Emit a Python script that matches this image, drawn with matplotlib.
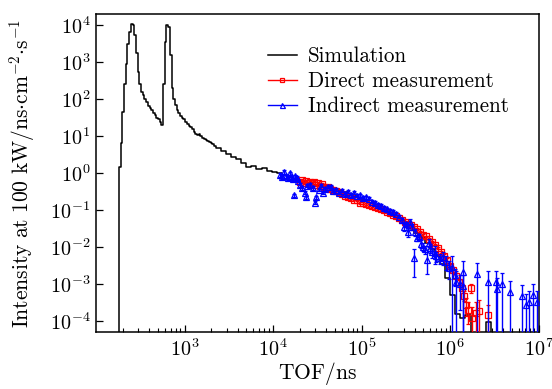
import numpy as np
import matplotlib
matplotlib.use("Agg")
import matplotlib.pyplot as plt
from matplotlib.lines import Line2D

plt.rcParams['font.family'] = 'serif'
plt.rcParams['font.serif'] = ['cmr10']
plt.rcParams['mathtext.fontset'] = 'cm'
plt.rcParams['axes.formatter.use_mathtext'] = True
plt.rcParams['axes.unicode_minus'] = False

# simulated spectrum, histogram bin edges (ns) and intensities
sim_edges = [100, 181.8, 190.0, 198.6, 207.5, 216.9, 226.7, 236.9, 247.6, 258.8, 270.5,
             282.7, 295.4, 308.8, 322.7, 337.3, 352.5, 368.4, 385.0, 402.4, 420.6,
             439.6, 459.4, 480.2, 501.8, 524.5, 548.2, 572.9, 598.8, 625.8, 654.1,
             683.6, 714.5, 746.7, 780.4, 815.7, 852.5, 891.0, 931.2, 973.2, 1017,
             1063, 1111, 1161, 1214, 1269, 1326, 1386, 1448, 1514, 1582,
             1654, 1728, 1806, 1888, 1973, 2062, 2155, 2252,
             2571, 2936, 3352, 3828, 4370, 4990, 5698, 6506, 7429, 8482,
             9685, 11058, 12627, 14417, 16462, 18796, 21462, 24506, 27981, 31950,
             36481, 41654, 47562, 54307, 62009, 70804, 80845, 92311, 105403, 120352,
             137420, 156910, 179163, 204573, 233586, 266714, 304540, 347730, 397047, 453358,
             517655, 591072, 674900, 770617, 879911, 1004710, 1147200, 1309900, 1495700, 1707800,
             1950000, 2226600, 2542400, 2903000, 3314700, 3784800, 4321600, 4934500, 5634300, 6433400,
             7345800, 8387600, 9577200, 1e7]
sim_val = [0, 1.4, 6.5, 45, 250, 900, 3000, 6500, 11000, 10000, 5500,
           1800, 550, 250, 150, 125, 100, 82, 66, 58, 51,
           42, 36, 31, 28, 24, 20, 250, 3500, 10000, 9000,
           1500, 200, 100, 70, 50, 42, 35, 31, 28, 24,
           21, 19, 17, 15, 12.5, 11, 10.8, 11, 9.8, 9,
           8.3, 7.9, 7.2, 6.8, 6.5, 6.0, 5.4,
           4.7, 3.9, 3.2, 2.7, 2.4, 1.86, 1.45, 1.55, 1.3, 1.37,
           1.1, 1.05, 1.0, 0.85, 0.78, 0.68, 0.6, 0.56, 0.52, 0.48,
           0.45, 0.42, 0.39, 0.36, 0.33, 0.3, 0.26, 0.23, 0.2, 0.17,
           0.15, 0.13, 0.11, 0.095, 0.08, 0.065, 0.052, 0.042, 0.032, 0.024,
           0.018, 0.013, 0.0085, 0.0055, 0.0035, 0.0014, 0.0005, 0.00015, 0.00012, 0.00014,
           0, 0, 0, 0.00009, 0, 0, 0, 0, 0, 0,
           0, 0, 0, 0]

# direct measurement
dir_tof = [20050, 21000, 22300, 23500, 24800, 26000, 27400, 28900, 30400, 32000,
           33700, 35500, 37400, 39300, 41400, 43800, 47400, 51100, 55300, 59800,
           64600, 69800, 75500, 81600, 88200, 95400, 103000, 111500, 120500, 130000,
           141000, 152000, 164500, 178000, 192000, 208000, 225000, 243000, 263000, 284000,
           307000, 332000, 359000, 388000, 419000, 454000, 490000, 530000, 573000, 620000,
           670000, 724000, 783000, 847000, 915000, 989000, 1070000, 1157000, 1250000, 1352000,
           1426000, 1504000, 1585000, 1710000, 1750000, 1990000, 2100000, 2670000]
dir_val = [0.58, 0.63, 0.54, 0.61, 0.52, 0.58, 0.52, 0.58, 0.47, 0.54,
           0.45, 0.51, 0.42, 0.40, 0.42, 0.37, 0.35, 0.33, 0.31, 0.27,
           0.24, 0.22, 0.21, 0.19, 0.18, 0.155, 0.155, 0.145, 0.135, 0.128,
           0.12, 0.113, 0.105, 0.10, 0.088, 0.083, 0.074, 0.069, 0.061, 0.054,
           0.048, 0.042, 0.038, 0.034, 0.030, 0.025, 0.021, 0.019, 0.016, 0.0136,
           0.0113, 0.0094, 0.0073, 0.0057, 0.0045, 0.0031, 0.0023, 0.00166, 0.0011, 0.00078,
           0.00048, 0.00027, 0.0002, 0.00078, 0.00012, 0.00016, 0.00018, 0.000145]
dir_rel_err = [0.05] * 50 + [0.06, 0.07, 0.08, 0.1, 0.1, 0.12, 0.12, 0.15, 0.18, 0.2,
                             0.3, 0.5, 0.6, 0.3, 1.0, 1.0, 1.0, 0.8]

# indirect measurement
ind_tof = [11940, 12600, 13300, 14000, 14800, 15500, 16000, 16800, 17600, 18500,
           19400, 20400, 21500, 17200, 22800, 23500, 24100, 26000, 28200, 29600,
           31000, 32700, 34600, 36300, 38400, 41400, 44800, 47400, 51100, 55300,
           59800, 64600, 69800, 75500, 81600, 88200, 95400, 103000, 111500, 120500,
           130000, 141000, 152000, 164500, 178000, 192000, 208000, 225000, 243000, 263000,
           284000, 300000, 320000, 332000, 350000, 375000, 388000, 398000, 419000, 441000,
           466000, 490000, 517000, 545000, 573000, 600000, 630000, 670000, 700000, 763000,
           827000, 892000, 970000, 1040000, 1127000, 1180000, 1283000, 1400000, 1400000, 2000000,
           2670000, 3300000, 3420000, 3900000, 4710000, 6560000, 7210000, 7910000, 8580000, 9700000]
ind_val = [0.88, 0.78, 1.06, 0.82, 0.73, 0.98, 0.78, 0.68, 0.82, 0.73,
           0.61, 0.47, 0.39, 0.25, 0.29, 0.22, 0.45, 0.47, 0.39, 0.155,
           0.22, 0.35, 0.45, 0.29, 0.37, 0.42, 0.42, 0.33, 0.35, 0.29,
           0.33, 0.27, 0.31, 0.25, 0.29, 0.24, 0.25, 0.21, 0.22, 0.20,
           0.165, 0.155, 0.135, 0.128, 0.113, 0.105, 0.093, 0.088, 0.078, 0.065,
           0.054, 0.034, 0.042, 0.025, 0.048, 0.035, 0.005, 0.025, 0.0175, 0.019,
           0.012, 0.010, 0.0085, 0.0045, 0.013, 0.0094, 0.0073, 0.0069, 0.0057, 0.005,
           0.0053, 0.0039, 0.0027, 0.0029, 0.0017, 0.0011, 0.00098, 0.00085, 0.0021, 0.0018,
           0.0011, 0.0011, 0.00072, 0.00098, 0.00058, 0.00046, 0.00027, 0.00032, 0.00049, 0.00032]
ind_rel_err = [0.1] * 50 + [0.12, 0.2, 0.15, 0.25, 0.15, 0.2, 0.7, 0.2, 0.2, 0.2,
                            0.25, 0.25, 0.25, 0.6, 0.25, 0.3, 0.3, 0.5, 0.3, 0.3,
                            0.4, 0.4, 0.5, 1.0, 0.5, 1.0, 0.8, 1.0, 1.0, 1.0,
                            1.0, 1.0, 1.0, 1.0, 1.0, 1.0, 1.0, 1.0, 1.0, 1.0]

fig = plt.figure(figsize=(5.52, 3.89), dpi=100)
ax = fig.add_axes([96 / 552, 1 - 332.3 / 389, (538.5 - 96) / 552, (332.3 - 14) / 389])
ax.set_xscale('log', nonpositive='clip')
ax.set_yscale('log', nonpositive='clip')

sim_y = np.append(sim_val, sim_val[-1])
ax.step(sim_edges, sim_y, where='post', color='black', lw=1.1, zorder=2)

dir_err = np.array(dir_val) * np.array(dir_rel_err)
ax.errorbar(dir_tof, dir_val, yerr=dir_err, fmt='s', ms=4.2, mfc='none', mec='red',
            mew=0.9, ecolor='red', elinewidth=1.0, capsize=1.5, capthick=0.9, zorder=3)
ind_err = np.array(ind_val) * np.array(ind_rel_err)
ax.errorbar(ind_tof, ind_val, yerr=ind_err, fmt='^', ms=4.4, mfc='none', mec='blue',
            mew=0.9, ecolor='blue', elinewidth=1.0, capsize=1.5, capthick=0.9, zorder=4)

ax.set_xlim(100, 1e7)
ax.set_ylim(4.85e-5, 1.99e4)
ax.set_xticks([1e3, 1e4, 1e5, 1e6, 1e7])
ax.set_yticks([1e-4, 1e-3, 1e-2, 1e-1, 1, 1e1, 1e2, 1e3, 1e4])
ax.tick_params(which='both', direction='in', top=False, right=False, labelsize=14.5)
ax.tick_params(which='major', length=5, width=0.9)
ax.tick_params(which='minor', length=2.8, width=0.8)
ax.tick_params(axis='x', pad=4)
ax.tick_params(axis='y', pad=4)
for sp in ax.spines.values():
    sp.set_linewidth(1.1)

ax.set_xlabel(r'$\mathrm{TOF/ns}$', fontsize=15.5, labelpad=0.5)
ax.set_ylabel(r'$\mathrm{Intensity\ at\ 100\ kW/ns{\cdot}cm^{-2}{\cdot}s^{-1}}$', fontsize=15.5,
              labelpad=9)

handles = [Line2D([], [], color='black', lw=1.1),
           Line2D([], [], color='red', lw=1.0, marker='s', ms=3.4, mfc='none', mew=0.9),
           Line2D([], [], color='blue', lw=1.0, marker='^', ms=3.6, mfc='none', mew=0.9)]
ax.legend(handles, ['Simulation', 'Direct measurement', 'Indirect measurement'],
          loc='upper left', bbox_to_anchor=(0.37, 0.923), frameon=False, fontsize=15.2,
          handlelength=1.35, handletextpad=0.55, labelspacing=0.25, borderaxespad=0)

fig.savefig('out.png', dpi=100)
